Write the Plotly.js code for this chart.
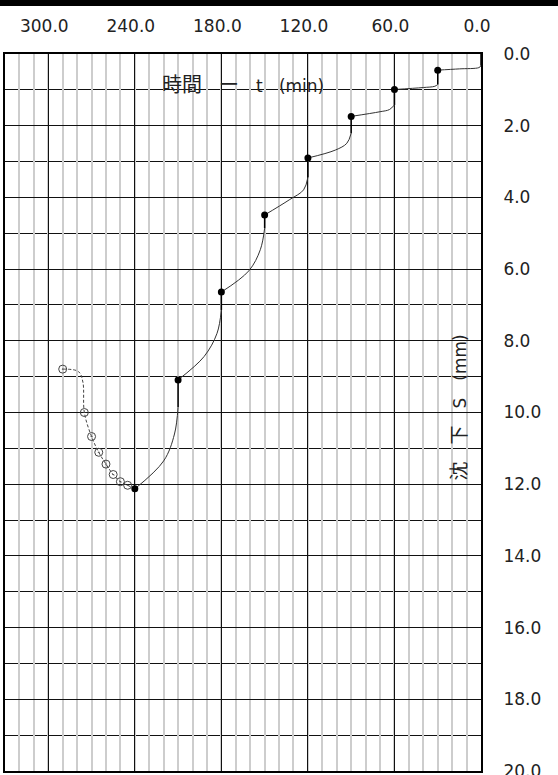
<!DOCTYPE html>
<html>
<head>
<meta charset="utf-8">
<script src="https://cdn.plot.ly/plotly-3.0.1.min.js"></script>
<style>html,body{margin:0;padding:0;background:#fff;}#chart{width:558px;height:775px;}</style>
</head>
<body>
<div id="chart"></div>
<script>
// ---- data ----
// load stages: start time of each increment (min)
const stageStart = [0, 30, 60, 90, 120, 150, 180, 210];
// end of each stage (marked points)
const pointTimes = [30, 60, 90, 120, 150, 180, 210, 240];
const pointS     = [0.45, 0.99, 1.74, 2.90, 4.49, 6.64, 9.09, 12.13];
// settlement right after each load increment (bottom of vertical drop)
const dropTopS   = [0.00, 0.45, 0.99, 1.74, 2.90, 4.49, 6.64, 9.09];
const dropEndS   = [0.33, 0.85, 1.42, 2.21, 3.44, 4.86, 7.14, 9.85];
// points
const kneeT1 = [1.5, 32, 63.5, 93, 123, 153, 183, 212.5];
const kneeS1 = [0.38, 0.90, 1.55, 2.49, 3.79, 5.46, 7.79, 10.60];
const kneeT2 = [15, 40, 70, 101, 133, 161, 192, 220];
const kneeS2 = [0.415, 0.935, 1.61, 2.68, 4.07, 6.05, 8.44, 11.35];
// rebound (open circles, dashed)
const reboundT = [245, 250, 255, 260, 265, 270, 275, 290];
const reboundS = [12.03, 11.93, 11.73, 11.44, 11.11, 10.67, 10.00, 8.79];
const reboundKneeT = [276, 279];
const reboundKneeS = [9.15, 8.86];
// axis tick labels
const xTickVals = [0, 60, 120, 180, 240, 300];
const yTickVals = [0, 2, 4, 6, 8, 10, 12, 14, 16, 18, 20];

// ---- build traces ----
const vx = [], vy = [];
stageStart.forEach((t, i) => { vx.push(t, t, null); vy.push(dropTopS[i], dropEndS[i], null); });
const cx = [], cy = [];
stageStart.forEach((t, i) => {
  cx.push(t, kneeT1[i], kneeT2[i], pointTimes[i], null);
  cy.push(dropEndS[i], kneeS1[i], kneeS2[i], pointS[i], null);
});
const lastT = pointTimes[pointTimes.length - 1], lastS = pointS[pointS.length - 1];
const dX = [lastT].concat(reboundT.slice(0, 7), reboundKneeT, reboundT.slice(7));
const dY = [lastS].concat(reboundS.slice(0, 7), reboundKneeS, reboundS.slice(7));

const traces = [
  {x: [], y: [], xaxis: 'x2', yaxis: 'y', mode: 'lines', hoverinfo: 'skip'},
  {x: vx, y: vy, mode: 'lines', line: {color: '#000', width: 1.5}, hoverinfo: 'skip'},
  {x: cx, y: cy, mode: 'lines', line: {color: '#333', width: 1, shape: 'spline', smoothing: 1}, hoverinfo: 'skip'},
  {x: dX, y: dY, mode: 'lines', line: {color: '#444', width: 1, dash: '3px,2px', shape: 'spline', smoothing: 1}, hoverinfo: 'skip'},
  {x: reboundT, y: reboundS, mode: 'markers', marker: {symbol: 'circle-open-dot', size: 8, color: '#444', line: {width: 1, color: '#444'}}},
  {x: pointTimes, y: pointS, mode: 'markers', marker: {symbol: 'circle', size: 7, color: '#000'}}
];

const FONT = 'DejaVu Sans, Verdana, "Noto Sans CJK JP", sans-serif';
const layout = {
  width: 558, height: 775,
  margin: {l: 5, r: 77, t: 54, b: 4, pad: 0},
  paper_bgcolor: '#fff', plot_bgcolor: '#fff',
  showlegend: false,
  font: {family: FONT, color: '#222'},
  // main x axis: light minor grid every 10 min
  xaxis: {
    range: [330, 0], side: 'top',
    tick0: 0, dtick: 10, showticklabels: false,
    showgrid: true, gridcolor: '#cdcdcd', gridwidth: 2,
    showline: true, linecolor: '#000', linewidth: 2, mirror: true,
    ticks: '', zeroline: false, fixedrange: true
  },
  // overlay x axis: black major grid every 60 min + labels
  xaxis2: {
    overlaying: 'x', anchor: 'y', range: [330, 0], side: 'top',
    tickmode: 'array', tickvals: xTickVals, tickformat: '.1f',
    showgrid: true, gridcolor: '#111', gridwidth: 1,
    showline: false, ticks: '', tickfont: {size: 17, color: '#222'},
    ticklabelstandoff: 18, ticklabelshift: 4, ticklabeloverflow: 'allow',
    zeroline: false, fixedrange: true
  },
  yaxis: {
    range: [20, 0], side: 'right',
    tickmode: 'array', tickvals: yTickVals, tickformat: '.1f',
    showgrid: true, gridcolor: '#111', gridwidth: 1,
    minor: {tick0: 0, dtick: 1, showgrid: true, gridcolor: '#111', gridwidth: 1, ticks: ''},
    showline: true, linecolor: '#000', linewidth: 2, mirror: true,
    ticks: '', tickfont: {size: 17, color: '#222'},
    ticklabelstandoff: 17, ticklabeloverflow: 'allow',
    zeroline: false, fixedrange: true
  },
  annotations: [
    {xref: 'paper', yref: 'paper', x: 0.499, y: 0.9568, xanchor: 'center', yanchor: 'middle', showarrow: false,
     text: '<span style="font-size:20px">時間</span>\u3000<span style="font-size:20px">ー</span>\u3000t\u00a0\u00a0\u00a0(min)',
     font: {size: 17, family: FONT, color: '#222'}},
    {xref: 'paper', yref: 'paper', x: 0.9538, y: 0.507, xanchor: 'center', yanchor: 'middle', showarrow: false, textangle: -90,
     text: '<span style="font-size:19px">沈</span>\u3000<span style="font-size:19px">下</span>\u3000S\u3000(mm)',
     font: {size: 17, family: FONT, color: '#222'}}
  ],
  shapes: [
    {type: 'rect', xref: 'paper', yref: 'paper', x0: -0.05, x1: 1.2, y0: 1 + 48 / 717, y1: 1 + 60 / 717,
     fillcolor: '#000', line: {width: 0}, layer: 'above'}
  ]
};

Plotly.newPlot('chart', traces, layout, {staticPlot: true, displayModeBar: false});
</script>
</body>
</html>
